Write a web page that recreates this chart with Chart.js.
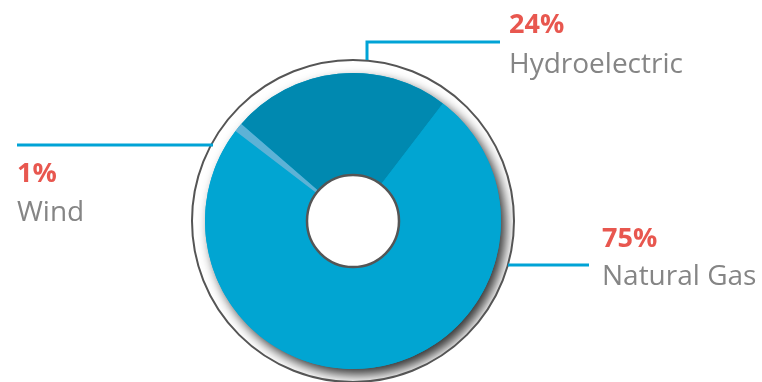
<!DOCTYPE html>
<html>
<head>
<meta charset="utf-8">
<script src="https://cdn.jsdelivr.net/npm/chart.js@4"></script>
<style>
  html, body { margin: 0; padding: 0; background: #fff; }
  #wrap { width: 762px; height: 382px; }
</style>
</head>
<body>
<div id="wrap"><canvas id="chart" width="762" height="382"></canvas></div>
<script>
const sources = ['Hydroelectric', 'Natural Gas', 'Wind'];
const shares = [24, 75, 1];
const sliceColors = ['#0089b0', '#01a5d2', '#5db2d6'];

// callouts: leader line points + where the label text sits
const callouts = [
  { idx: 0, line: [[367, 60], [367, 42], [500, 42]], x: 509, y1: 33, y2: 73 },
  { idx: 2, line: [[213, 145], [17, 145]], x: 17, y1: 182, y2: 221 },
  { idx: 1, line: [[508, 265], [589, 265]], x: 602, y1: 247, y2: 285 }
];

const ringPlugin = {
  id: 'ring',
  beforeDatasetsDraw(chart) {
    const arc = chart.getDatasetMeta(0).data[0];
    const { x, y, outerRadius } = arc.getProps(['x', 'y', 'outerRadius'], true);
    const ctx = chart.ctx;
    const rr = outerRadius + 13;
    ctx.save();
    ctx.beginPath();
    ctx.arc(x, y, rr, 0, Math.PI * 2);
    ctx.fillStyle = '#fff';
    ctx.fill();
    ctx.clip();
    // soft drop shadow of the pie on the white rim
    ctx.shadowColor = 'rgba(0,0,0,0.8)';
    ctx.shadowBlur = 12;
    ctx.shadowOffsetX = 5;
    ctx.shadowOffsetY = 6;
    ctx.beginPath();
    ctx.arc(x, y, outerRadius, 0, Math.PI * 2);
    ctx.fillStyle = '#01a5d2';
    ctx.fill();
    ctx.restore();
    ctx.save();
    ctx.beginPath();
    ctx.arc(x, y, rr, 0, Math.PI * 2);
    ctx.strokeStyle = '#555';
    ctx.lineWidth = 2;
    ctx.stroke();
    ctx.restore();
  },
  afterDatasetsDraw(chart) {
    const arc = chart.getDatasetMeta(0).data[0];
    const { x, y, innerRadius } = arc.getProps(['x', 'y', 'innerRadius'], true);
    const ctx = chart.ctx;
    ctx.save();
    ctx.beginPath();
    ctx.arc(x, y, innerRadius, 0, Math.PI * 2);
    ctx.fillStyle = '#fff';
    ctx.fill();
    ctx.strokeStyle = '#555';
    ctx.lineWidth = 2.5;
    ctx.stroke();

    callouts.forEach(c => {
      ctx.beginPath();
      c.line.forEach((p, i) => i ? ctx.lineTo(p[0], p[1]) : ctx.moveTo(p[0], p[1]));
      ctx.strokeStyle = '#00a3d6';
      ctx.lineWidth = 3;
      ctx.stroke();
      ctx.textAlign = 'left';
      ctx.textBaseline = 'alphabetic';
      ctx.fillStyle = '#e8574f';
      ctx.font = 'bold 27px "Open Sans"';
      ctx.fillText(shares[c.idx] + '%', c.x, c.y1);
      ctx.fillStyle = '#858585';
      ctx.font = '28px "Open Sans"';
      ctx.fillText(sources[c.idx], c.x, c.y2);
    });
    ctx.restore();
  }
};

new Chart(document.getElementById('chart'), {
  type: 'doughnut',
  data: {
    labels: sources,
    datasets: [{
      data: shares,
      backgroundColor: sliceColors,
      borderWidth: 0
    }]
  },
  options: {
    responsive: false,
    animation: false,
    events: [],
    rotation: -49,
    cutout: 46,
    layout: { padding: { left: 205, right: 261, top: 73, bottom: 13 } },
    plugins: {
      legend: { display: false },
      tooltip: { enabled: false }
    }
  },
  plugins: [ringPlugin]
});
</script>
</body>
</html>
